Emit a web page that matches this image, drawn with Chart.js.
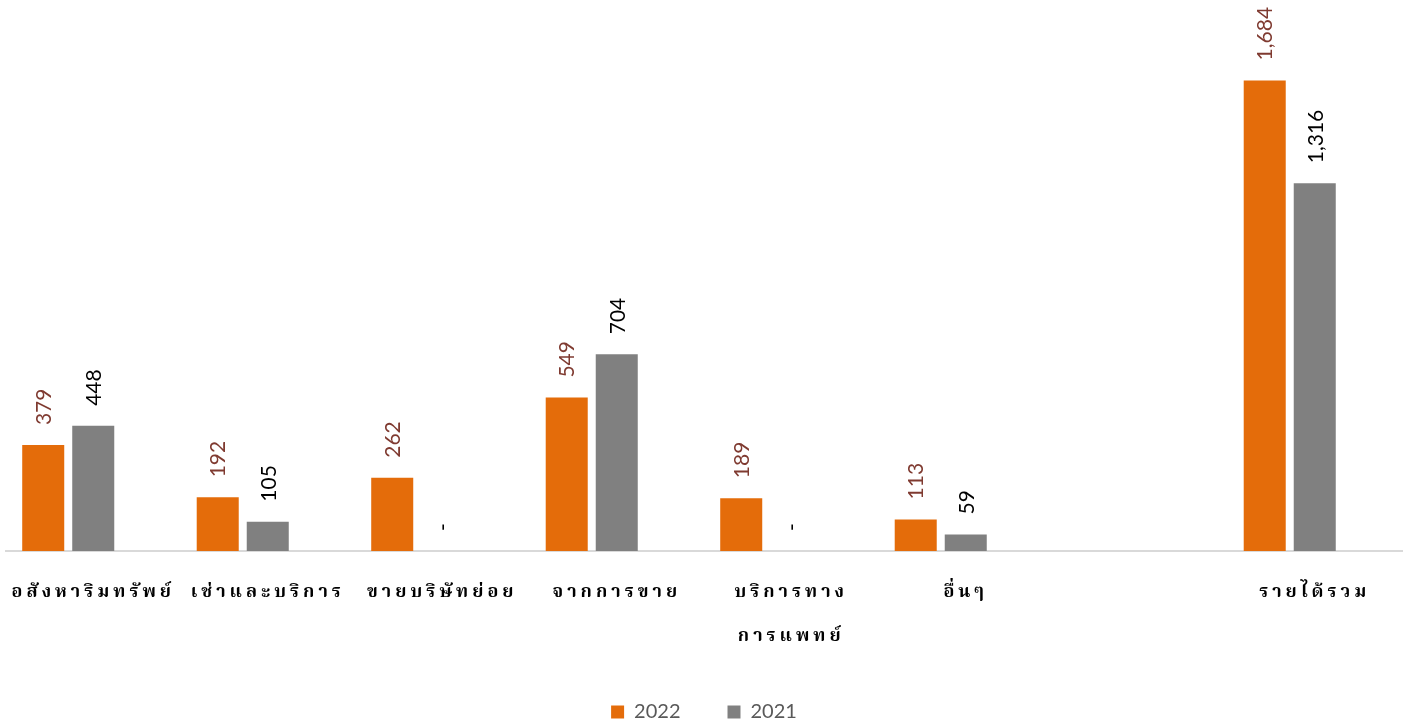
<!DOCTYPE html>
<html>
<head>
<meta charset="utf-8">
<title>รายได้</title>
<script src="https://cdn.jsdelivr.net/npm/chart.js@4.4.0/dist/chart.umd.min.js"></script>
<style>
  html, body { margin: 0; padding: 0; background: #fff; }
  #wrap { width: 1405px; height: 724px; }
</style>
</head>
<body>
<div id="wrap"><canvas id="revenueChart" width="1405" height="724"></canvas></div>
<script>
// categories (x axis), the 7th slot is left empty like in the source
var categories = [
  'อสังหาริมทรัพย์',
  'เช่าและบริการ',
  'ขายบริษัทย่อย',
  'จากการขาย',
  ['บริการทาง', 'การแพทย์'],
  'อื่นๆ',
  '',
  'รายได้รวม'
];

// series values
var values2022 = [379, 192, 262, 549, 189, 113, null, 1684];
var values2021 = [448, 105, 0, 704, 0, 59, null, 1316];
var valuesBlank = [null, null, null, null, null, null, null, null];

var seriesNames = ['2022', '2021'];

//draws the rotated value labels above every bar
var barLabels = {
  id: 'barLabels',
  afterDatasetsDraw: function(chart) {
    var ctx = chart.ctx;
    chart.data.datasets.forEach(function(ds, i) {
      if (!ds.labelColor) return;
      var meta = chart.getDatasetMeta(i);
      meta.data.forEach(function(bar, j) {
        var v = ds.data[j];
        if (v === null || v === undefined) return;
        var text = v === 0 ? '-' : v.toLocaleString('en-US');
        ctx.save();
        ctx.font = '21px Lato, "Open Sans", sans-serif';
        ctx.translate(bar.x + 1, bar.y - 20);
        ctx.rotate(-Math.PI / 2);
        ctx.fillStyle = ds.labelColor;
        ctx.textAlign = 'left';
        ctx.textBaseline = 'middle';
        ctx.fillText(text, 0, 0);
        ctx.restore();
      });
    });
    // x tick labels are drawn after this (ticks.z = 1), spaced out
    ctx.letterSpacing = '4px';
  },
  afterDraw: function(chart) {
    chart.ctx.letterSpacing = '0px';
  }
};

var chartarea = document.getElementById('revenueChart');

var revenueChart = new Chart(chartarea, {
  type: 'bar',
  data: {
    labels: categories,
    datasets: [{
      label: seriesNames[0],
      data: values2022,
      backgroundColor: '#E46C0A',
      labelColor: '#7F3A30'
    }, {
      label: seriesNames[1],
      data: values2021,
      backgroundColor: '#808080',
      labelColor: '#000000'
    }, {
      label: '',
      data: valuesBlank,
      backgroundColor: 'rgba(0,0,0,0)'
    }]
  },
  options: {
    responsive: false,
    animation: false,
    devicePixelRatio: 1,
    categoryPercentage: 0.86,
    barPercentage: 0.84,
    layout: {
      padding: { left: 6, right: 3, top: 48, bottom: -8 }
    },
    plugins: {
      tooltip: { enabled: false },
      legend: {
        position: 'bottom',
        labels: {
          boxWidth: 13,
          boxHeight: 13,
          padding: 47,
          color: '#595959',
          font: { size: 20, family: 'Lato, "Open Sans", sans-serif' },
          filter: function(item) { return item.text !== ''; }
        }
      }
    },
    scales: {
      x: {
        grid: { display: false },
        border: { display: true, color: '#D9D9D9', width: 2 },
        ticks: {
          z: 1,
          color: '#000000',
          padding: 13,
          maxRotation: 0,
          autoSkip: false,
          font: { size: 18, weight: 'bold', lineHeight: 2.45,
                  family: '"Noto Serif Thai", "Noto Sans Thai", Loma, Garuda, "DejaVu Sans", sans-serif' }
        },
        afterFit: function(scale) {
          scale.height = 104;
        }
      },
      y: {
        display: false,
        min: 0,
        max: 1800
      }
    }
  },
  plugins: [barLabels]
});
</script>
</body>
</html>
